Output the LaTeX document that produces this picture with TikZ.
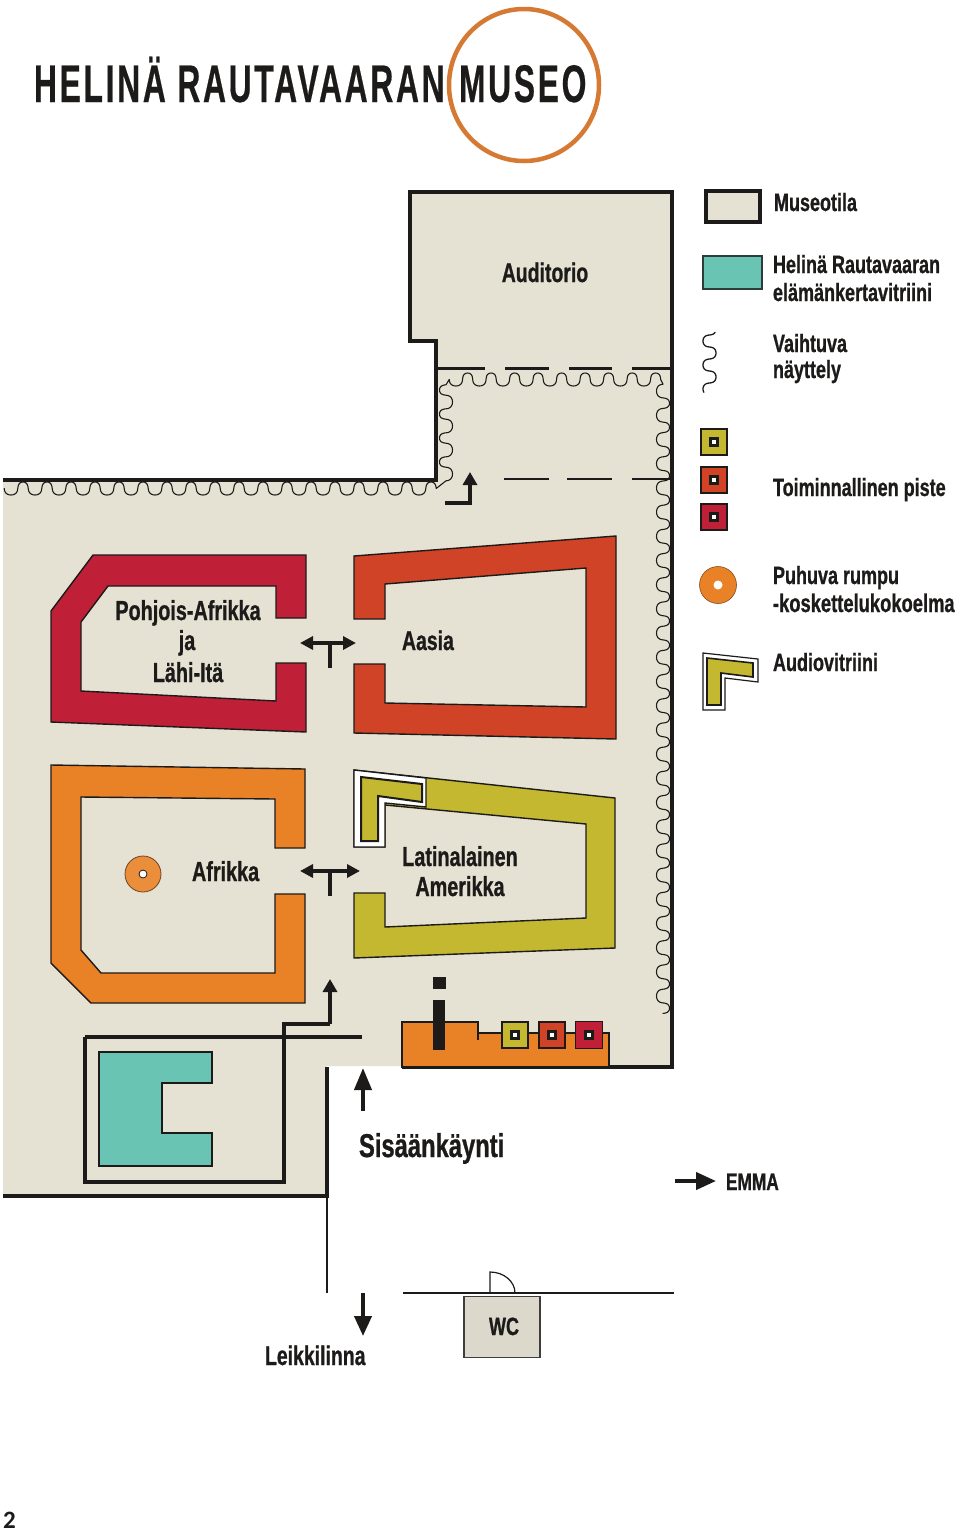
\documentclass[tikz,border=0pt]{standalone}
\usepackage{fontspec}
\usetikzlibrary{arrows.meta}
\newfontfamily\lab{Liberation Sans}[FakeStretch=0.72,BoldFeatures={FakeBold=0.8}]
\newfontfamily\logo{Liberation Sans}[FakeStretch=0.6,LetterSpace=5.1,BoldFeatures={FakeBold=0.4}]
\newfontfamily\pagef{Carlito}
\definecolor{floor}{HTML}{E6E2D3}
\definecolor{crim}{HTML}{C01F38}
\definecolor{rust}{HTML}{D14327}
\definecolor{oran}{HTML}{E98226}
\definecolor{oliv}{HTML}{C3B82F}
\definecolor{teal}{HTML}{69C4B3}
\definecolor{ink}{HTML}{1D1B1A}
\definecolor{ringc}{HTML}{D67A33}
\tikzset{
  wall/.style={draw=ink,line width=4pt,line join=miter},
  route/.style={draw=ink,line width=3.6pt},
  room/.style={draw=ink,line width=1.4pt,line join=miter},
  wavy/.style={draw=ink,line width=1.1pt,line join=round,line cap=round},
  thin wall/.style={draw=ink,line width=1.5pt},
  arrowed/.style={draw=ink,line width=4pt,-{Triangle[length=13pt,width=14pt]}},
  twoway/.style={draw=ink,line width=4pt,{Triangle[length=13pt,width=13pt]}-{Triangle[length=13pt,width=13pt]}},
  txt/.style={inner sep=0pt,outer sep=0pt,text=ink,font=\lab\bfseries\fontsize{#1}{#1}\selectfont},
  txt/.default=25,
  pt west/.style={txt=#1,anchor=base west},
  pt mid/.style={txt=#1,anchor=base},
  logotxt/.style={inner sep=0pt,outer sep=0pt,text=ink,anchor=base west,font=\logo\bfseries\fontsize{53}{53}\selectfont},
  hole/.style={draw=ink,line width=.8pt,fill=white},
}
\newcommand{\spotbox}[4]{% name, centre, colour, size
  \node[draw=ink,line width=1.2pt,fill=#3,minimum size=#4,inner sep=0pt] (#1) at (#2) {};
  \node[draw=ink,line width=2.6pt,fill=white,minimum size=7pt,inner sep=0pt] (#1c) at (#2) {};
}
\begin{document}
\begin{tikzpicture}[x=1pt,y=-1pt]
\useasboundingbox (0,0) rectangle (960,1535);
\fill[white] (0,0) rectangle (960,1535);
% logo
\draw[ringc,line width=4.5pt] (524,85) ellipse (75 and 76);
\node[logotxt] (logoa) at (34,102) {HELINÄ RAUTAVAARAN};
\node[logotxt] (logob) at (459,102) {MUSEO};
% floor
\fill[floor] (3,480) -- (436,480) -- (436,341) -- (410,341) -- (410,192) -- (672,192) -- (672,1067) -- (402,1067) -- (402,1066) -- (327,1066) -- (327,1196) -- (3,1196) -- cycle;
\draw[wall] (3,480) -- (436,480) -- (436,341) -- (410,341) -- (410,192) -- (672,192) -- (672,1067) -- (402,1067);
\draw[wall] (327,1067) -- (327,1196) -- (3,1196);
\draw[thin wall] (327,1196) -- (327,1293);
% partitions
\draw[draw=ink,line width=3pt] (436,368) -- (485,368) (505,368) -- (549,368) (569,368) -- (612,368) (632,368) -- (672,368);
\draw[draw=ink,line width=2.4pt] (504,479) -- (549,479) (567,479) -- (612,479) (632,479) -- (672,479);
% changing-exhibition wave
\draw[wavy]
  plot[domain=0:6480,samples=433,variable=\t] ({5+(\t/360)*24-0.8*cos(\t)-3*sin(\t)*cos(\t)},{488.5+6.5*sin(\t)})
  -- plot[domain=0:1440,samples=97,variable=\t] ({446+6.5*sin(\t)},{480-(\t/360)*24+0.8*cos(\t)+3*sin(\t)*cos(\t)})
  -- plot[domain=0:3240,samples=217,variable=\t] ({450+(\t/360)*23.5-0.8*cos(\t)-3*sin(\t)*cos(\t)},{379.5+6.5*sin(\t)})
  -- plot[domain=0:9360,samples=625,variable=\t] ({663-6.5*sin(\t)},{385+(\t/360)*24.2-0.8*cos(\t)-3*sin(\t)*cos(\t)});
% rooms
\filldraw[room,fill=crim] (306,555) -- (93,555) -- (51,611) -- (51,722) -- (306,732) -- (306,663) -- (276,663) -- (276,701) -- (81,691) -- (81,622) -- (108,586) -- (276,586) -- (276,618) -- (306,618) -- cycle;
\filldraw[room,fill=rust] (354,556) -- (616,536) -- (616,739) -- (354,733) -- (354,664) -- (385,664) -- (385,703) -- (586,707) -- (586,568) -- (385,584) -- (385,619) -- (354,619) -- cycle;
\filldraw[room,fill=oran] (51,765) -- (305,769) -- (305,848) -- (275,848) -- (275,799) -- (81,797) -- (81,950) -- (101,973) -- (275,973) -- (275,894) -- (305,894) -- (305,1003) -- (91,1003) -- (51,963) -- cycle;
\filldraw[room,fill=oliv] (354,770) -- (615,798) -- (615,948) -- (354,958) -- (354,893) -- (385,893) -- (385,927) -- (586,918) -- (586,824) -- (385,805) -- (385,847) -- (354,847) -- cycle;
\filldraw[room,fill=white] (354,770) -- (426,778) -- (426,807) -- (385,803) -- (385,847) -- (354,847) -- cycle;
\filldraw[draw=ink,line width=2pt,fill=oliv] (361,777) -- (422,784) -- (422,802) -- (378,796) -- (378,841) -- (361,841) -- cycle;
% route arrows
\coordinate (ta) at (300,643); \coordinate (tb) at (356,643); \coordinate (tc) at (330,643); \coordinate (td) at (330,668);
\draw[twoway] (ta) -- (tb); \draw[route] (tc) -- (td);
\coordinate (ua) at (300,871); \coordinate (ub) at (360,871); \coordinate (uc) at (330,871); \coordinate (ud) at (330,896);
\draw[twoway] (ua) -- (ub); \draw[route] (uc) -- (ud);
\coordinate (la) at (445,503); \coordinate (lb) at (470,503); \coordinate (lc) at (470,472);
\draw[arrowed] (la) -- (lb) -- (lc);
% cabinet room
\draw[route,line join=miter] (85,1037) -- (362,1037);
\draw[route,line join=miter] (85,1037) -- (85,1182) -- (284,1182) -- (284,1024) -- (330,1024);
\coordinate (va) at (330,1024); \coordinate (vb) at (330,979);
\draw[arrowed] (va) -- (vb);
\filldraw[room,fill=teal] (99,1052) -- (212,1052) -- (212,1083) -- (162,1083) -- (162,1133) -- (212,1133) -- (212,1166) -- (99,1166) -- cycle;
% info desk
\filldraw[draw=ink,line width=1.8pt,fill=oran] (402,1067) -- (402,1022) -- (478,1022) -- (478,1033) -- (609,1033) -- (609,1067) -- cycle;
\draw[draw=ink,line width=1.8pt] (478,1022) -- (478,1040);
\fill[ink] (433,977) rectangle (446,989);
\fill[ink] (433,1000) rectangle (445,1050);
\spotbox{d1}{515,1035}{oliv}{26pt}
\spotbox{d2}{552,1035}{rust}{26pt}
\spotbox{d3}{589,1035}{crim}{27pt}
% drum in Africa
\node[circle,draw=ink!60!oran,line width=.8pt,fill=oran!90!white,minimum size=36pt,inner sep=0pt] (drum) at (143,874) {};
\node[circle,hole,minimum size=8pt,inner sep=0pt] (drumc) at (143,874) {};
% outdoors
\coordinate (ea) at (363,1111); \coordinate (eb) at (363,1068);
\draw[arrowed,-{Triangle[length=22pt,width=17pt]}] (ea) -- (eb);
\coordinate (ma) at (675,1181); \coordinate (mb) at (716,1181);
\draw[arrowed,-{Triangle[length=20pt,width=17pt]}] (ma) -- (mb);
\coordinate (pa) at (363,1293); \coordinate (pb) at (363,1336);
\draw[arrowed,-{Triangle[length=20pt,width=17pt]}] (pa) -- (pb);
\draw[thin wall] (403,1293) -- (674,1293);
\node[draw=ink!85,line width=1.3pt,fill=floor!90!gray,minimum width=76pt,minimum height=61pt,inner sep=0pt] (wcbox) at (502,1327) {};
\draw[draw=ink,line width=1.2pt] (490,1293) -- (490,1272) arc[start angle=-90,end angle=0,x radius=25,y radius=21];
% legend
\filldraw[draw=ink,line width=4pt,fill=floor] (706,191) rectangle (760,222);
\filldraw[draw=ink!80!teal,line width=1.6pt,fill=teal] (703,256) rectangle (762,289);
\draw[wavy,line width=1.3pt] plot[domain=-60:840,samples=70,variable=\t] ({709.5-6.5*sin(\t)},{335+(\t/360)*24-3*sin(\t)*cos(\t)});
\spotbox{l1}{714,442}{oliv}{26pt}
\spotbox{l2}{714,480}{rust}{26pt}
\spotbox{l3}{714,517}{crim}{26pt}
\node[circle,draw=ink!50!oran,line width=.6pt,fill=oran,minimum size=37pt,inner sep=0pt] (ldrum) at (718,585) {};
\node[circle,fill=white,minimum size=9pt,inner sep=0pt] (ldrumc) at (718,585) {};
\filldraw[draw=ink,line width=1.2pt,fill=white] (703,653) -- (758,659) -- (758,682) -- (725,678) -- (725,710) -- (703,710) -- cycle;
\filldraw[draw=ink,line width=1.6pt,fill=oliv] (707,658) -- (753,663) -- (753,677) -- (721,673) -- (721,705) -- (707,705) -- cycle;
% labels
\node[pt mid=27] (auditorio) at (545,282) {Auditorio};
\node[pt mid=27.5] (pa1) at (188,620) {Pohjois-Afrikka};
\node[pt mid=27.5] (pa2) at (187,650) {ja};
\node[pt mid=27.5] (pa3) at (188,682) {Lähi-Itä};
\node[pt west=27] (aasia) at (402,650) {Aasia};
\node[pt west=27.5] (afrikka) at (192,881) {Afrikka};
\node[pt mid=27.5] (la1) at (460,866) {Latinalainen};
\node[pt mid=27.5] (la2) at (460,896) {Amerikka};
\node[pt west=33] (sis) at (359,1157) {Sisäänkäynti};
\node[pt west=24] (emma) at (726,1190) {EMMA};
\node[pt west=27] (leik) at (265,1365) {Leikkilinna};
\node[pt mid=25] (wc) at (504,1335) {WC};
\node[pt west=25] (t1) at (774,211) {Museotila};
\node[pt west=25] (t2) at (773,273) {Helinä Rautavaaran};
\node[pt west=25] (t3) at (773,301) {elämänkertavitriini};
\node[pt west=25] (t4) at (773,352) {Vaihtuva};
\node[pt west=25] (t5) at (773,378) {näyttely};
\node[pt west=25] (t6) at (773,496) {Toiminnallinen piste};
\node[pt west=25] (t7) at (773,584) {Puhuva rumpu};
\node[pt west=25.5] (t8) at (773,612) {-koskettelukokoelma};
\node[pt west=25] (t9) at (773,671) {Audiovitriini};
\node[inner sep=0pt,anchor=base west,text=ink,font=\pagef\bfseries\fontsize{25}{25}\selectfont] (pageno) at (3,1528) {2};
\end{tikzpicture}
\end{document}
